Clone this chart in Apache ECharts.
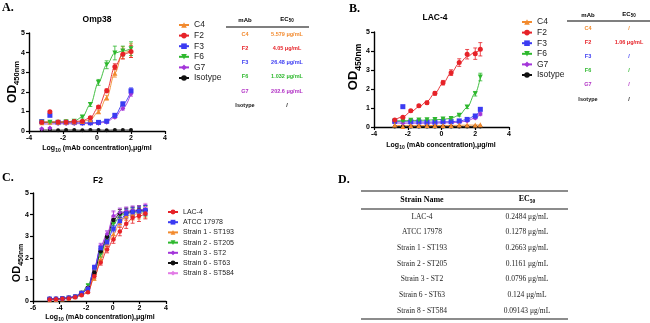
<!DOCTYPE html>
<html>
<head>
<meta charset="utf-8">
<script src="https://cdn.jsdelivr.net/npm/echarts@6/dist/echarts.min.js"></script>
<style>
html,body{margin:0;padding:0;background:#fff;}
#chart{width:650px;height:323px;}
</style>
</head>
<body>
<div id="chart"></div>
<script>
// ---------- Omp38 binding (log10 µg/mL vs OD450) ----------
const xOmp = [-3.25,-2.77,-2.29,-1.82,-1.34,-0.86,-0.39,0.09,0.57,1.05,1.52,2];
const ompC4 = [0.42,0.45,0.45,0.45,0.46,0.48,0.58,0.98,1.7,2.95,4.0,4.1];
const ompC4Err = [0.03,0.03,0.03,0.03,0.03,0.04,0.05,0.08,0.12,0.2,0.3,0.35];
const ompF2 = [0.45,0.98,0.46,0.46,0.48,0.5,0.68,1.22,2.05,3.28,3.92,4.05];
const ompF2Err = [0.03,0.05,0.03,0.03,0.03,0.04,0.05,0.08,0.1,0.15,0.25,0.3];
const ompF2Fit = [0.45,0.46,0.46,0.46,0.48,0.52,0.68,1.22,2.05,3.28,3.92,4.05];
const ompF3 = [0.48,0.8,0.43,0.43,0.43,0.42,0.42,0.44,0.5,0.8,1.38,2.05];
const ompF3Err = [0.03,0.05,0.03,0.03,0.03,0.03,0.03,0.03,0.04,0.06,0.1,0.15];
const ompF3Fit = [0.44,0.43,0.43,0.43,0.43,0.42,0.42,0.44,0.52,0.78,1.36,2.02];
const ompF6 = [0.45,0.45,0.45,0.47,0.5,0.72,1.35,2.48,3.38,3.98,4.08,4.2];
const ompF6Err = [0.03,0.03,0.03,0.03,0.04,0.06,0.1,0.15,0.2,0.35,0.25,0.35];
const ompG7 = [0.12,0.15,0.38,0.38,0.38,0.38,0.38,0.4,0.45,0.7,1.15,1.9];
const ompG7Err = [0.02,0.02,0.03,0.03,0.03,0.03,0.03,0.03,0.04,0.05,0.08,0.12];
const ompG7Fit = [0.36,0.36,0.37,0.37,0.37,0.38,0.38,0.4,0.46,0.7,1.15,1.9];
const ompIso = [0.05,0.05,0.04,0.05,0.05,0.04,0.05,0.05,0.04,0.05,0.05,0.05];

// ---------- LAC-4 binding ----------
const xLac = [-2.77,-2.29,-1.82,-1.34,-0.86,-0.39,0.09,0.57,1.05,1.52,2,2.3];
const lacC4 = [0.1,0.02,0.08,0.08,0.08,0.08,0.08,0.08,0.1,0.1,0.1,0.12];
const lacC4Fit = [0.08,0.08,0.08,0.08,0.08,0.08,0.08,0.08,0.09,0.1,0.1,0.11];
const lacF2 = [0.37,0.51,0.86,1.12,1.28,1.77,2.33,2.86,3.39,3.83,3.86,4.09];
const lacF2Err = [0.03,0.04,0.05,0.06,0.08,0.1,0.12,0.15,0.2,0.25,0.3,0.35];
const lacF2Fit = [0.38,0.53,0.8,1.05,1.35,1.78,2.3,2.85,3.35,3.7,3.95,4.05];
const lacF3 = [0.3,1.07,0.28,0.27,0.25,0.25,0.28,0.28,0.32,0.4,0.58,0.93];
const lacF3Fit = [0.28,0.28,0.27,0.27,0.26,0.26,0.27,0.28,0.31,0.4,0.6,0.9];
const lacF6 = [0.3,0.32,0.35,0.37,0.38,0.4,0.42,0.45,0.62,1.05,1.75,2.63];
const lacF6Err = [0.02,0.02,0.02,0.03,0.03,0.03,0.03,0.04,0.05,0.08,0.12,0.2];
const lacF6Fit = [0.32,0.33,0.34,0.35,0.36,0.38,0.4,0.46,0.62,1.03,1.78,2.6];
const lacG7 = [0.22,0.2,0.2,0.2,0.2,0.2,0.22,0.22,0.25,0.32,0.48,0.68];
const lacIso = [0.03,0.03,0.03,0.03,0.03,0.03,0.03,0.03,0.03,0.03,0.03,0.03];
const lacSmallErr = [0.02,0.02,0.02,0.02,0.02,0.02,0.02,0.02,0.03,0.04,0.06,0.08];

// ---------- F2 against clinical strains ----------
const xF2 = [-4.75,-4.27,-3.79,-3.31,-2.83,-2.35,-1.87,-1.39,-0.91,-0.43,0.05,0.53,1.01,1.49,1.97,2.45];
const f2Lac = [0.07,0.08,0.1,0.12,0.17,0.27,0.4,1.15,1.78,2.38,2.85,3.22,3.58,3.85,3.93,4.05];
const f2Atcc = [0.1,0.1,0.12,0.15,0.2,0.36,0.55,1.56,2.45,2.72,3.35,3.7,4.05,4.12,4.15,4.2];
const f2St193 = [0.05,0.06,0.08,0.12,0.18,0.3,0.45,1.05,1.95,2.68,3.1,3.62,3.95,4.0,4.05,4.1];
const f2St205 = [0.08,0.08,0.1,0.14,0.2,0.38,0.72,1.4,2.15,2.9,3.55,3.95,4.05,4.1,4.12,4.15];
const f2St2 = [0.1,0.1,0.12,0.15,0.22,0.4,0.6,1.5,2.55,3.1,3.95,4.1,4.15,4.2,4.2,4.25];
const f2St63 = [0.1,0.1,0.12,0.15,0.2,0.35,0.6,1.32,2.3,2.97,3.75,4.05,4.1,4.15,4.2,4.2];
const f2St584 = [0.1,0.1,0.12,0.15,0.2,0.38,0.55,1.45,2.5,3.05,3.9,4.05,4.1,4.15,4.2,4.3];
const f2LacErr = [0.02,0.02,0.02,0.02,0.03,0.04,0.05,0.1,0.12,0.15,0.18,0.2,0.22,0.25,0.25,0.25];
const f2AtccErr = [0.02,0.02,0.02,0.02,0.03,0.04,0.05,0.1,0.12,0.12,0.15,0.18,0.2,0.2,0.2,0.22];
const f2St2Err = [0.02,0.02,0.02,0.02,0.03,0.04,0.05,0.1,0.12,0.15,0.22,0.2,0.2,0.2,0.2,0.22];

// ---------- legends and tables ----------
const mAbNames = ['C4','F2','F3','F6','G7','Isotype'];
const ompEC50 = ['5.579 μg/mL','4.05 μg/mL','26.48 μg/mL','1.032 μg/mL','202.6 μg/mL','/'];
const lacEC50 = ['/','1.06 μg/mL','/','/','/','/'];
const strainNames = ['LAC-4','ATCC 17978','Strain 1 - ST193','Strain 2 - ST205','Strain 3 - ST2','Strain 6 - ST63','Strain 8 - ST584'];
const strainEC50 = ['0.2484 μg/mL','0.1278 μg/mL','0.2663 μg/mL','0.1161 μg/mL','0.0796 μg/mL','0.124 μg/mL','0.09143 μg/mL'];

const SANS = "'Liberation Sans', Arial, sans-serif";
const SERIF = "'Liberation Serif', 'Times New Roman', serif";
const COL = {
  orange:'#F28A2E', red:'#E62228', blue:'#3B3BF2', green:'#2EB82E',
  purple:'#A335D9', black:'#111111', pink:'#E27BE6', magenta:'#B02FC4'
};
const mAbColors = [COL.orange, COL.red, COL.blue, COL.green, COL.magenta, COL.black];

const zip = (xs, ys) => xs.map((x, i) => [x, ys[i]]);
const zipErr = (xs, ys, es) => xs.map((x, i) => [x, ys[i] - es[i], ys[i] + es[i]]);

function errRender(params, api) {
  const x = api.value(0);
  const top = api.coord([x, api.value(2)]);
  const bot = api.coord([x, api.value(1)]);
  const w = 2;
  const style = { stroke: api.visual('color'), lineWidth: 0.8 };
  return { type: 'group', children: [
    { type: 'line', shape: { x1: top[0], y1: top[1], x2: bot[0], y2: bot[1] }, style },
    { type: 'line', shape: { x1: top[0] - w, y1: top[1], x2: top[0] + w, y2: top[1] }, style },
    { type: 'line', shape: { x1: bot[0] - w, y1: bot[1], x2: bot[0] + w, y2: bot[1] }, style }
  ]};
}

const series = [];
function addSet(gi, xs, s, size) {
  const fit = s.fit || s.pts;
  series.push({
    name: s.name, type: 'line', xAxisIndex: gi, yAxisIndex: gi,
    data: zip(xs, fit), smooth: 0.35, smoothMonotone: 'x',
    showSymbol: false, symbol: s.symbol, symbolRotate: s.rotate || 0,
    lineStyle: { color: s.color, width: 0.9 }, itemStyle: { color: s.color },
    silent: true, z: 2
  });
  if (s.err) {
    series.push({
      name: s.name + ' error', type: 'custom', xAxisIndex: gi, yAxisIndex: gi,
      data: zipErr(xs, s.pts, s.err), encode: { x: 0, y: [1, 2] },
      renderItem: errRender, itemStyle: { color: s.color }, silent: true, z: 3
    });
  }
  series.push({
    name: s.name + ' points', type: 'scatter', xAxisIndex: gi, yAxisIndex: gi,
    data: zip(xs, s.pts), symbol: s.symbol, symbolRotate: s.rotate || 0,
    symbolSize: s.size || size, itemStyle: { color: s.color, opacity: 1 },
    silent: true, z: 4
  });
}

// Panel A
[
  { name:'Isotype', color:COL.black, symbol:'circle', pts:ompIso, size:4 },
  { name:'G7', color:COL.purple, symbol:'diamond', pts:ompG7, err:ompG7Err, fit:ompG7Fit },
  { name:'F3', color:COL.blue, symbol:'rect', pts:ompF3, err:ompF3Err, fit:ompF3Fit },
  { name:'C4', color:COL.orange, symbol:'triangle', pts:ompC4, err:ompC4Err },
  { name:'F6', color:COL.green, symbol:'triangle', rotate:180, pts:ompF6, err:ompF6Err },
  { name:'F2', color:COL.red, symbol:'circle', pts:ompF2, err:ompF2Err, fit:ompF2Fit }
].forEach(s => addSet(0, xOmp, s, 5));

// Panel B
[
  { name:'Isotype', color:COL.black, symbol:'circle', pts:lacIso, size:4 },
  { name:'G7', color:COL.purple, symbol:'diamond', pts:lacG7, err:lacSmallErr },
  { name:'F3', color:COL.blue, symbol:'rect', pts:lacF3, err:lacSmallErr, fit:lacF3Fit },
  { name:'F6', color:COL.green, symbol:'triangle', rotate:180, pts:lacF6, err:lacF6Err, fit:lacF6Fit },
  { name:'C4', color:COL.orange, symbol:'triangle', pts:lacC4, fit:lacC4Fit },
  { name:'F2', color:COL.red, symbol:'circle', pts:lacF2, err:lacF2Err, fit:lacF2Fit }
].forEach(s => addSet(1, xLac, s, 5));

// Panel C
[
  { name:'Strain 8 - ST584', color:COL.pink, symbol:'diamond', pts:f2St584, err:f2St2Err },
  { name:'Strain 1 - ST193', color:COL.orange, symbol:'triangle', pts:f2St193, err:f2LacErr },
  { name:'Strain 2 - ST205', color:COL.green, symbol:'triangle', rotate:180, pts:f2St205, err:f2AtccErr },
  { name:'Strain 6 - ST63', color:COL.black, symbol:'circle', pts:f2St63, err:f2AtccErr },
  { name:'Strain 3 - ST2', color:COL.purple, symbol:'diamond', pts:f2St2, err:f2St2Err },
  { name:'ATCC 17978', color:COL.blue, symbol:'rect', pts:f2Atcc, err:f2AtccErr },
  { name:'LAC-4', color:COL.red, symbol:'circle', pts:f2Lac, err:f2LacErr }
].forEach(s => addSet(2, xF2, s, 4.5));

const gridBoxes = [
  { left:29, top:33, width:136, height:98 },
  { left:374, top:32, width:135, height:95 },
  { left:33, top:193, width:133, height:108 }
];
const xRanges = [[-4,4],[-4,4],[-6,4]];

const axisLabel = { color:'#000', fontSize:7, fontWeight:'bold', fontFamily:SANS, margin:4 };
const axisLine = { show:true, onZero:false, lineStyle:{ color:'#000', width:1.4 } };
const axisTick = { show:true, length:3, lineStyle:{ color:'#000', width:1.2 } };

const xAxes = xRanges.map((r, i) => ({
  type:'value', gridIndex:i, min:r[0], max:r[1], interval:2,
  axisLine, axisTick, axisLabel, splitLine:{ show:false }
}));
const yAxes = xRanges.map((r, i) => ({
  type:'value', gridIndex:i, min:0, max:5, interval:1,
  axisLine, axisTick, axisLabel, splitLine:{ show:false }
}));

function legendBox(left, top, names, fontSize, gap, iw, ih) {
  return {
    orient:'vertical', left, top, data:names, itemWidth:iw, itemHeight:ih, itemGap:gap,
    selectedMode:false, padding:0,
    textStyle:{ fontSize, fontFamily:SANS, color:'#222' }
  };
}

// ---------- text and table graphics ----------
const g = [];
function txt(x, y, text, o) {
  o = o || {};
  g.push({ type:'text', x, y, rotation:o.rot || 0, silent:true, style:{
    text, fill:o.color || '#000', fontSize:o.size || 8, fontWeight:o.weight || 'normal',
    fontStyle:o.style || 'normal', fontFamily:o.family || SANS,
    align:o.align || 'center', verticalAlign:'middle', rich:o.rich
  }});
}
function hline(x1, x2, y, w, color) {
  g.push({ type:'line', silent:true, shape:{ x1, y1:y, x2, y2:y }, style:{ stroke:color, lineWidth:w } });
}
// main text sits at the top of the line box, the smaller subscript at its bottom
function subRich(a, b, family, drop) {
  return {
    a:{ fontSize:a, fontWeight:'bold', fontFamily:family || SANS, verticalAlign:'top', lineHeight:a + drop },
    b:{ fontSize:b, fontWeight:'bold', fontFamily:family || SANS, verticalAlign:'bottom', lineHeight:b }
  };
}
const logText = '{a|Log}{b|10}{a| (mAb concentration),μg/ml}';

// panel letters
txt(2, 8, 'A.', { family:SERIF, weight:'bold', size:12, align:'left' });
txt(349, 9, 'B.', { family:SERIF, weight:'bold', size:12, align:'left' });
txt(2, 178, 'C.', { family:SERIF, weight:'bold', size:12, align:'left' });
txt(338, 180, 'D.', { family:SERIF, weight:'bold', size:12, align:'left' });

// chart titles
txt(97, 20, 'Omp38', { weight:'bold', size:8.5 });
txt(435, 18, 'LAC-4', { weight:'bold', size:8.5 });
txt(98, 181, 'F2', { weight:'bold', size:8.5 });

// axis titles
txt(14, 82, '{a|OD}{b|450nm}', { rot:Math.PI/2, rich:subRich(12, 7.5, SANS, 2.5) });
txt(355, 67, '{a|OD}{b|450nm}', { rot:Math.PI/2, rich:subRich(13, 8.5, SANS, 2.5) });
txt(18, 263, '{a|OD}{b|450nm}', { rot:Math.PI/2, rich:subRich(11, 7, SANS, 2) });
txt(97, 149, logText, { rich:subRich(7, 5, SANS, 2) });
txt(441, 146, logText, { rich:subRich(7, 5, SANS, 2) });
txt(100, 318, logText, { rich:subRich(7, 5, SANS, 2) });

// mAb / EC50 tables
function mAbTable(cx1, cx2, yHead, yLine, lx1, lx2, y0, dy, values) {
  txt(cx1, yHead, 'mAb', { weight:'bold', size:6 });
  txt(cx2, yHead, '{a|EC}{b|50}', { rich:subRich(6, 4.5, SANS, 1.5) });
  hline(lx1, lx2, yLine, 1.2, '#000');
  mAbNames.forEach((n, i) => {
    const c = mAbColors[i];
    txt(cx1, y0 + i * dy, n, { weight:'bold', size:5.5, color:c });
    txt(cx2, y0 + i * dy, values[i], { weight:'bold', size:5.5, color:c });
  });
}
mAbTable(245, 287, 20, 27, 226, 309, 34, 14.3, ompEC50);
mAbTable(588, 629, 15, 21, 567, 650, 28.5, 14.1, lacEC50);

// strain EC50 table
hline(361, 568, 191, 1.6, '#666');
txt(422, 199.5, 'Strain Name', { family:SERIF, weight:'bold', size:8 });
txt(527, 199.5, '{a|EC}{b|50}', { rich:subRich(8, 5.5, SERIF, 2) });
hline(361, 568, 209, 1.6, '#666');
strainNames.forEach((n, i) => {
  const y = 216.7 + i * 15.67;
  txt(422, y, n, { family:SERIF, size:7.5, color:'#222' });
  txt(527, y, strainEC50[i], { family:SERIF, size:7.5, color:'#222' });
});
hline(361, 568, 319, 1.6, '#666');

const chart = echarts.init(document.getElementById('chart'), null, { renderer:'canvas' });
chart.setOption({
  animation:false,
  backgroundColor:'#fff',
  grid: gridBoxes.map(b => Object.assign({ containLabel:false, outerBoundsMode:'none' }, b)),
  xAxis: xAxes,
  yAxis: yAxes,
  legend: [
    legendBox(178, 20.5, mAbNames, 8.5, 1.6, 10, 7),
    legendBox(521, 17.5, mAbNames, 8.5, 1.6, 10, 7),
    legendBox(167, 208.5, strainNames, 7, 3.2, 10, 6)
  ],
  series,
  graphic: g
});
</script>
</body>
</html>
